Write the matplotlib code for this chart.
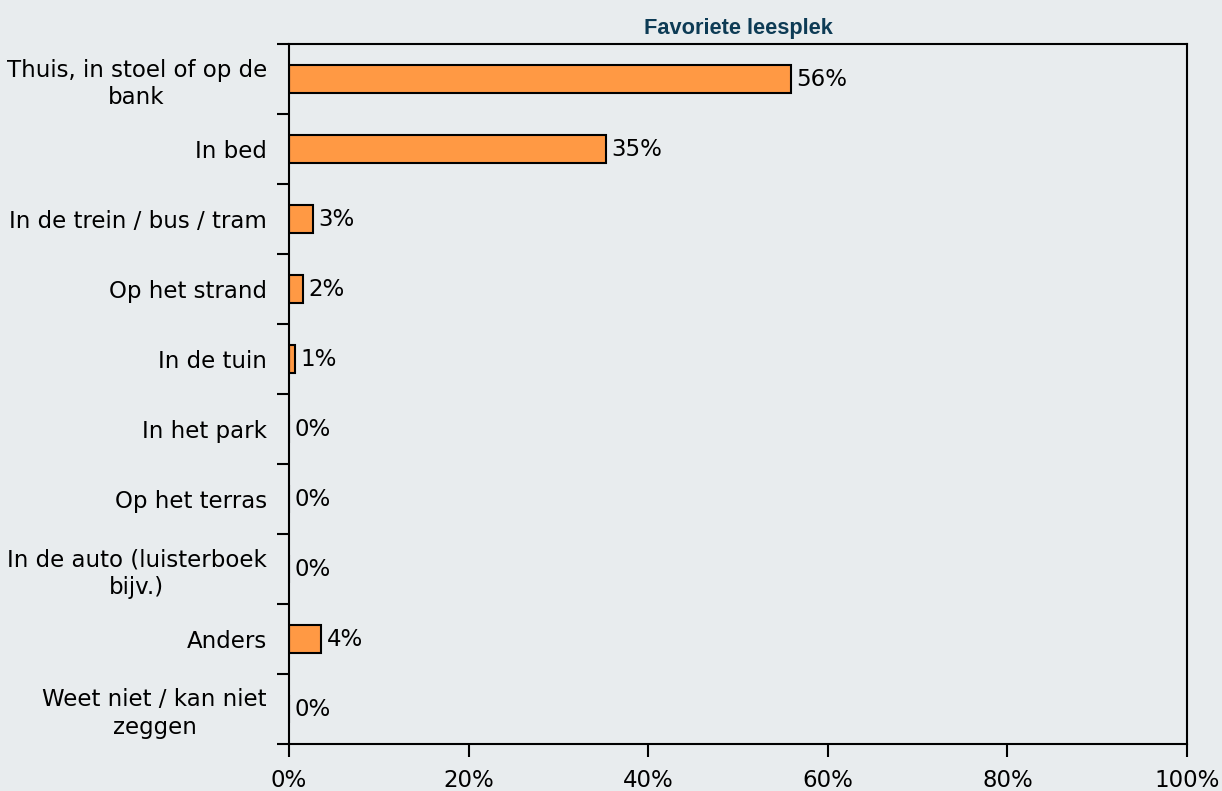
import numpy as np
import matplotlib.pyplot as plt
from matplotlib.ticker import FixedLocator

categories = ["Thuis, in stoel of op de\nbank", "In bed", "In de trein / bus / tram",
              "Op het strand", "In de tuin", "In het park", "Op het terras",
              "In de auto (luisterboek\nbijv.)", "Anders", "Weet niet / kan niet\nzeggen"]
shares = [55.9, 35.3, 2.7, 1.6, 0.7, 0.0, 0.0, 0.0, 3.6, 0.0]
xticks = [0, 20, 40, 60, 80, 100]

bg = "#e8ecee"
fs = 16.5
fig = plt.figure(figsize=(12.22, 7.91), dpi=100, facecolor=bg)
ax = fig.add_axes([289 / 1222, 1 - 744 / 791, 898 / 1222, 700 / 791], facecolor=bg)

pos = np.arange(len(categories))
ax.barh(pos, shares, height=0.41, color="#ff9944", edgecolor="black", linewidth=1.5)
for p, v in zip(pos, shares):
    ax.text(v + 0.6, p, f"{v:.0f}%", va="center", ha="left", fontsize=fs, color="black")

ax.set_xlim(0, 100)
ax.set_ylim(len(categories) - 0.5, -0.5)
ax.set_xticks(xticks)
ax.set_xticklabels([f"{t}%" for t in xticks], fontsize=fs)

# boundary ticks between categories, labels at category centres
ax.yaxis.set_major_locator(FixedLocator(np.arange(len(categories) + 1) - 0.5))
ax.yaxis.set_major_formatter(plt.NullFormatter())
ax.yaxis.set_minor_locator(FixedLocator(pos))
ax.set_yticklabels(categories, minor=True, fontsize=fs, multialignment="center",
                   linespacing=1.25)
ax.tick_params(axis="y", which="major", direction="out", length=9, width=1.5)
ax.tick_params(axis="y", which="minor", length=0, pad=16)
ax.tick_params(axis="x", direction="out", length=9, width=1.5, pad=9)

for s in ax.spines.values():
    s.set_linewidth(1.5)

ax.set_title("Favoriete leesplek", fontsize=15.7, fontweight="bold", family="Liberation Sans",
             color="#0d3b55", pad=7)

fig.savefig("out.png", dpi=100, facecolor=bg)
